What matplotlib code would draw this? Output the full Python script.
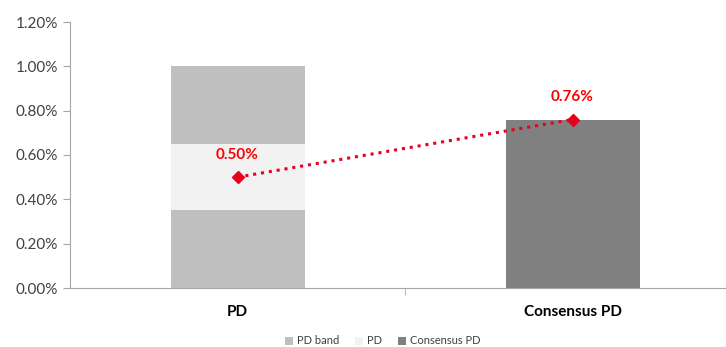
import matplotlib.pyplot as plt
from matplotlib.ticker import PercentFormatter, FixedLocator

plt.rcParams['font.family'] = ['Lato', 'DejaVu Sans']

# PD range split into lower band, PD zone and upper band
categories = ["PD", "Consensus PD"]
band_low = [0.35, 0.0]
pd_zone = [0.30, 0.0]
band_high = [0.35, 0.0]
consensus = [0.0, 0.76]
pd_points = [0.50, 0.76]

fig = plt.figure(figsize=(7.26, 3.47), dpi=100)
ax = fig.add_axes([70 / 726, 1 - 288 / 347, 670 / 726, 266 / 347])

x = [0, 1]
w = 0.4
ax.bar(x, band_low, w, color="#bfbfbf", label="PD band", zorder=2)
ax.bar(x, pd_zone, w, bottom=band_low, color="#f2f2f2", label="PD", zorder=2)
ax.bar(x, band_high, w, bottom=[a + b for a, b in zip(band_low, pd_zone)],
       color="#bfbfbf", zorder=2)
ax.bar(x, consensus, w, color="#808080", label="Consensus PD", zorder=2)

ax.plot(x, pd_points, linestyle=(0, (1, 1.6)), color="#e8001c", linewidth=2.2,
        marker="D", markersize=6, zorder=4)
for xi, v in zip(x, pd_points):
    ax.annotate(f"{v:.2f}%", (xi, v), xytext=(0, 11), textcoords="offset points",
                ha="center", va="bottom", color="#ff0000", fontweight="bold",
                fontsize=11)

ax.set_xlim(-0.5, 1.5)
ax.set_ylim(0, 1.2)
ax.set_yticks([0, 0.2, 0.4, 0.6, 0.8, 1.0, 1.2])
ax.yaxis.set_major_formatter(PercentFormatter(decimals=2))
ax.set_xticks(x)
ax.set_xticklabels(categories, fontweight="bold", fontsize=11)
ax.xaxis.set_minor_locator(FixedLocator([0.5]))
ax.tick_params(axis="x", which="major", length=0, pad=12)
ax.tick_params(axis="x", which="minor", length=5, color="#a6a6a6")
ax.tick_params(axis="y", length=5, color="#a6a6a6", labelsize=11,
               labelcolor="#404040")

for s in ["top", "right"]:
    ax.spines[s].set_visible(False)
for s in ["left", "bottom"]:
    ax.spines[s].set_color("#a6a6a6")

ax.legend(loc="center", bbox_to_anchor=((383 - 70) / 670, (288 - 341) / 266),
          ncol=3, frameon=False, fontsize=8, handlelength=0.7, handleheight=0.7,
          handletextpad=0.4, columnspacing=1.4, labelcolor="#404040",
          borderpad=0)

fig.savefig("out.png", dpi=100)
